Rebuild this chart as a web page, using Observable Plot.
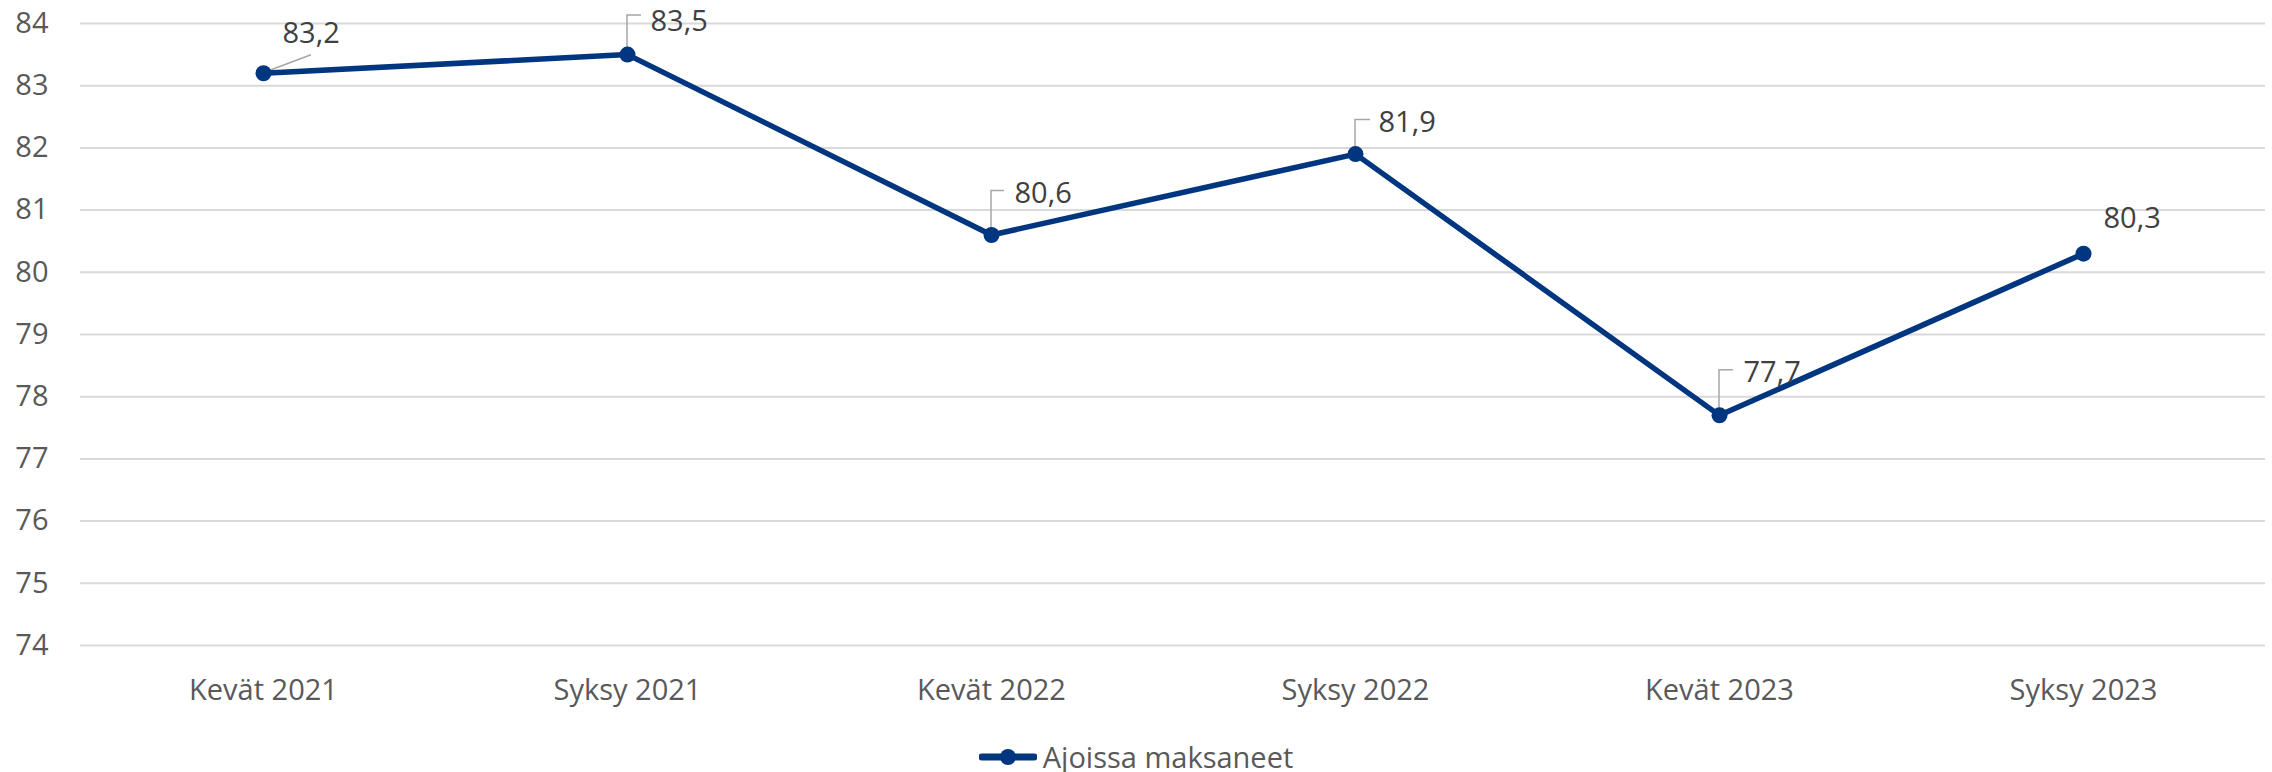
<!DOCTYPE html>
<html>
<head>
<meta charset="utf-8">
<script src="https://cdn.jsdelivr.net/npm/d3@7"></script>
<script src="https://cdn.jsdelivr.net/npm/@observablehq/plot@0.6"></script>
<style>
  html, body { margin: 0; padding: 0; background: #fff; }
  body { width: 2272px; height: 772px; overflow: hidden; font-family: "Open Sans", sans-serif; }
  #chart svg { display: block; }
  #legend { display: flex; justify-content: center; align-items: center; margin-top: 22px; font-size: 29px; color: #595959; }
  #legend svg { margin-right: 6px; }
</style>
</head>
<body>
<div id="chart"></div>
<div id="legend"></div>
<script>
// ---- data ----
const categories = ["Kevät 2021", "Syksy 2021", "Kevät 2022", "Syksy 2022", "Kevät 2023", "Syksy 2023"];
const values = [83.2, 83.5, 80.6, 81.9, 77.7, 80.3];
const yTicks = [74, 75, 76, 77, 78, 79, 80, 81, 82, 83, 84];
const seriesName = "Ajoissa maksaneet";

// ---- label layout (pixel offsets from each point) ----
const labelStyle = [
  {dx: 19, dy: -40, leader: [[0, 0], [48, -18]]},
  {dx: 23, dy: -33, leader: [[0, 0], [0, -39], [14, -39]]},
  {dx: 23, dy: -41, leader: [[0, 0], [0, -44], [13, -44]]},
  {dx: 23, dy: -31, leader: [[0, 0], [0, -34], [15, -34]]},
  {dx: 24, dy: -43, leader: [[0, 0], [0, -45], [14, -45]]},
  {dx: 20, dy: -35, leader: null}
];

const lineColor = "#00367f";
const data = categories.map((c, i) => ({cat: c, v: values[i], i}));
const fmt = v => v.toFixed(1).replace(".", ",");

const leaders = (index, scales) => {
  const g = d3.create("svg:g");
  data.forEach((d, i) => {
    const L = labelStyle[i].leader;
    if (!L) return;
    const x0 = scales.x(d.cat), y0 = scales.y(d.v);
    g.append("path")
      .attr("d", d3.line()(L.map(([a, b]) => [x0 + a, y0 + b])))
      .attr("fill", "none")
      .attr("stroke", "#a6a6a6")
      .attr("stroke-width", 1.5);
  });
  return g.node();
};

const chart = Plot.plot({
  width: 2272,
  height: 715,
  marginLeft: 80,
  marginRight: 7,
  marginTop: 23,
  marginBottom: 70,
  style: {fontFamily: "'Open Sans', sans-serif", fontSize: "29px", color: "#595959", background: "#fff", overflow: "visible"},
  x: {type: "point", domain: categories, padding: 0.5, label: null},
  y: {domain: [74, 84], label: null},
  marks: [
    Plot.gridY(yTicks, {stroke: "#d9d9d9", strokeOpacity: 1, strokeWidth: 2}),
    Plot.axisY(yTicks, {tickSize: 0, tickPadding: 32, fill: "#595959", fontSize: 29, tickFormat: d => String(d)}),
    Plot.axisX({tickSize: 0, tickPadding: 34, fill: "#595959", fontSize: 29}),
    leaders,
    Plot.line(data, {x: "cat", y: "v", stroke: lineColor, strokeWidth: 5.5}),
    Plot.dot(data, {x: "cat", y: "v", r: 8, fill: lineColor}),
    ...data.map((d, i) => Plot.text([d], {
      x: "cat", y: "v", text: dd => fmt(dd.v),
      dx: labelStyle[i].dx, dy: labelStyle[i].dy,
      textAnchor: "start", lineAnchor: "middle",
      fill: "#404040", fontSize: 29
    }))
  ]
});
document.getElementById("chart").appendChild(chart);

// legend
const leg = document.getElementById("legend");
const sw = d3.create("svg").attr("width", 58).attr("height", 20);
sw.append("line").attr("x1", 3).attr("x2", 55).attr("y1", 10).attr("y2", 10)
  .attr("stroke", lineColor).attr("stroke-width", 7).attr("stroke-linecap", "round");
sw.append("circle").attr("cx", 29).attr("cy", 10).attr("r", 8).attr("fill", lineColor);
leg.appendChild(sw.node());
const span = document.createElement("span");
span.textContent = seriesName;
leg.appendChild(span);
</script>
</body>
</html>
